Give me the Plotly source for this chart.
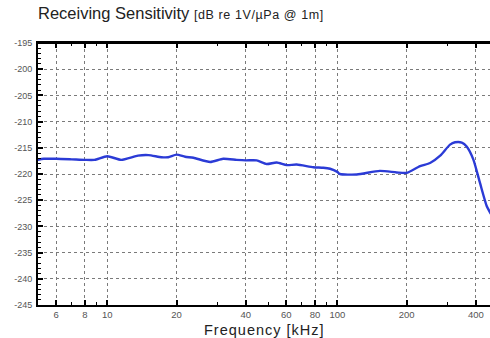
import plotly.graph_objects as go
import numpy as np

# Receiving sensitivity curve (frequency in kHz, level in dB re 1V/µPa @ 1m)
freq_khz = [4.85, 5.3, 6.0, 7.0, 8.0, 8.8, 10.0, 11.5, 13.6, 15.1, 17.2, 18.4,
            20.0, 21.8, 23.7, 28.0, 31.9, 36.5, 40.0, 44.6, 49.3, 54.5, 60.3,
            66.6, 78.7, 86.9, 93.0, 100.0, 102.7, 121.5, 153.0, 181.0, 200.0,
            229.0, 253.0, 280.0, 309.0, 325.0, 347.5, 365.0, 390.0, 417.0,
            446.0, 465.0]
sensitivity_db = [-217.4, -217.1, -217.1, -217.2, -217.3, -217.3, -216.6, -217.3,
                  -216.5, -216.4, -216.8, -216.8, -216.3, -216.7, -216.9, -217.7,
                  -217.1, -217.3, -217.4, -217.4, -218.1, -217.8, -218.3, -218.2,
                  -218.7, -218.8, -219.0, -219.6, -220.0, -220.1, -219.4, -219.7,
                  -219.8, -218.5, -217.9, -216.5, -214.4, -213.95, -214.0, -214.75,
                  -217.2, -221.7, -226.1, -227.6]

x_ticks = [6, 8, 10, 20, 40, 60, 80, 100, 200, 400]
x_minor = [5, 6, 7, 8, 9, 10, 20, 30, 40, 50, 60, 70, 80, 90, 100, 200, 300, 400]
y_ticks = list(range(-245, -194, 5))

font_family = "Liberation Sans, Arial, Helvetica, sans-serif"

fig = go.Figure()
fig.add_trace(go.Scatter(
    x=freq_khz, y=sensitivity_db, mode="lines",
    line=dict(color="#2b3bd6", width=2.4, shape="spline", smoothing=0.6),
    hoverinfo="skip", showlegend=False,
))

fig.update_layout(
    width=490, height=338,
    margin=dict(l=38, r=0, t=43, b=33),
    paper_bgcolor="white", plot_bgcolor="white",
    font=dict(family=font_family, color="#444", size=10),
    annotations=[
        dict(
            text="Receiving Sensitivity <span style='font-size:12.5px;letter-spacing:0.6px'>[dB re 1V/µPa @ 1m]</span>",
            xref="paper", yref="paper", x=0, y=1, xshift=-2, yshift=19,
            xanchor="left", yanchor="bottom", showarrow=False,
            font=dict(size=16.5, color="#222", family=font_family),
        ),
        dict(
            text="<span style='letter-spacing:1px'>Frequency [kHz]</span>",
            xref="paper", yref="paper", x=0.5, y=0, yshift=-25,
            xanchor="center", yanchor="middle", showarrow=False,
            font=dict(size=14.5, color="#222", family=font_family),
        ),
    ],
    shapes=[dict(type="line", xref="paper", yref="paper", x0=0, x1=1, y0=1, y1=1,
                 line=dict(color="black", width=2), layer="above")],
)

fig.update_xaxes(
    type="log", range=[np.log10(5.0), np.log10(461)],
    tickmode="array", tickvals=x_ticks, ticktext=[str(v) for v in x_ticks],
    ticks="inside", ticklen=5, tickwidth=1.5, tickcolor="black",
    showline=True, linecolor="black", linewidth=2, mirror="allticks",
    showgrid=True, gridcolor="#7a7a7a", griddash="dot", gridwidth=1,
    zeroline=False,
    minor=dict(tickmode="array", tickvals=x_minor, ticks="inside", ticklen=3,
               tickcolor="black", tickwidth=1.2, showgrid=False),
    tickfont=dict(size=9.5, color="#555"),
)

fig.update_yaxes(
    range=[-245, -195],
    tickmode="array", tickvals=y_ticks, ticktext=[str(v) for v in y_ticks],
    ticks="inside", ticklen=5, tickwidth=1.5, tickcolor="black",
    showline=True, linecolor="black", linewidth=2, mirror=False,
    showgrid=True, gridcolor="#7a7a7a", griddash="dot", gridwidth=1,
    zeroline=False,
    minor=dict(dtick=1, tick0=-245, ticks="inside", ticklen=3,
               tickcolor="black", tickwidth=1, showgrid=False),
    tickfont=dict(size=9, color="#555"),
    ticklabelstandoff=2,
)

fig.write_html("out.html")
